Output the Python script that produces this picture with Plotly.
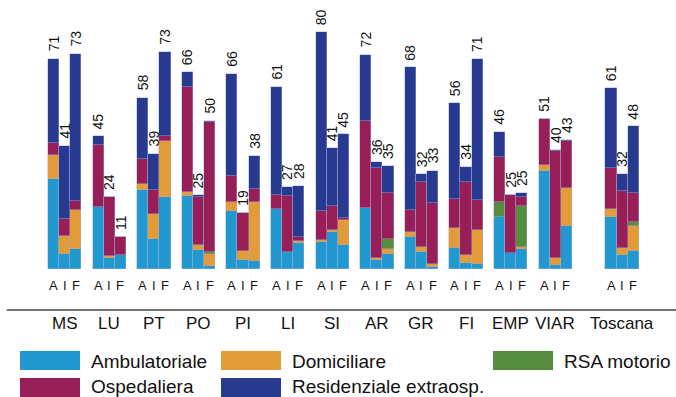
import plotly.graph_objects as go
import numpy as np

groups = ["MS", "LU", "PT", "PO", "PI", "LI", "SI", "AR", "GR", "FI", "EMP", "VIAR", "Toscana"]
sub = ["A", "I", "F"]

ambulatoriale = [30.3, 5.1, 6.6, 20.9, 3.8, 4.7, 26.7, 10.0, 24.2, 24.8, 6.4, 1.1,
                 19.6, 3.0, 2.7, 20.2, 5.6, 8.7, 9.2, 12.4, 8.1, 20.5, 3.0, 5.1,
                 10.9, 5.7, 0.8, 7.2, 1.9, 1.6, 17.6, 5.3, 6.9, 33.2, 1.4, 14.6,
                 17.7, 4.7, 6.2]
domiciliare = [8.3, 6.0, 13.3, 0.0, 0.5, 0.0, 2.0, 8.7, 19.0, 1.2, 1.6, 4.0,
               3.0, 3.1, 20.0, 0.0, 0.0, 0.9, 0.7, 0.8, 8.5, 0.0, 0.6, 1.8,
               1.7, 1.7, 0.9, 6.8, 2.7, 11.5, 0.0, 0.0, 0.4, 1.9, 2.2, 12.9,
               2.7, 2.5, 8.4]
rsa_motorio = [0, 0, 0, 0, 0, 0, 0, 0, 0, 0, 0, 0.6,
               0, 0, 0, 0, 0, 0, 0, 0, 0, 0, 0, 3.4,
               0, 0, 0, 0, 0, 0, 5.0, 0, 14.0, 0, 0, 0,
               0, 0, 1.4]
ospedaliera = [4.1, 5.8, 3.0, 21.0, 20.1, 6.1, 8.6, 8.1, 1.7, 35.6, 16.3, 44.1,
               8.8, 12.7, 4.2, 4.8, 19.2, 1.1, 9.7, 8.1, 0.6, 29.6, 30.6, 15.5,
               7.4, 22.1, 20.6, 9.6, 24.7, 10.1, 15.2, 19.7, 3.1, 15.7, 36.4, 15.7,
               13.8, 19.3, 9.7]
residenziale = [28.3, 24.7, 49.8, 2.9, 0.0, 0.0, 20.6, 12.2, 28.5, 5.0, 0.7, 0.2,
                34.5, 0.2, 11.4, 36.5, 2.8, 17.3, 60.4, 19.6, 28.3, 22.3, 1.9, 9.0,
                48.1, 2.7, 10.9, 32.4, 5.3, 47.8, 8.4, 0.0, 1.2, 0.0, 0.3, 0.5,
                26.9, 5.7, 22.5]
totals = [71, 41, 73, 45, 24, 11, 58, 39, 73, 66, 25, 50,
          66, 19, 38, 61, 27, 28, 80, 41, 45, 72, 36, 35,
          68, 32, 33, 56, 34, 71, 46, 25, 25, 51, 40, 43,
          61, 32, 48]

series = [
    ("Ambulatoriale", ambulatoriale, "#2198CF"),
    ("Domiciliare", domiciliare, "#E39B37"),
    ("RSA motorio", rsa_motorio, "#558C3E"),
    ("Ospedaliera", ospedaliera, "#971E57"),
    ("Residenziale extraosp.", residenziale, "#283A8F"),
]

# slot positions: 4 slots per group, Toscana separated by extra gap
xpos = []
for g in range(len(groups)):
    base = g * 4 + (2 if groups[g] == "Toscana" else 0)
    for j in range(3):
        xpos.append(base + j)
ticktext = sub * len(groups)

FONT = "Liberation Sans, Arial, sans-serif"
fig = go.Figure()
for name, vals, col in series:
    fig.add_trace(go.Bar(
        x=xpos, y=vals, name=name, width=1.0,
        marker=dict(color=col, line=dict(color="rgba(160,170,215,0.75)", width=0.6)),
        showlegend=False,
    ))

tops = np.sum([np.array(s[1]) for s in series], axis=0)

H_PLOT = 269.0
W = 676
def py(p):
    return (H_PLOT - p) / H_PLOT

annotations = []
for x, t, lab in zip(xpos, tops, totals):
    annotations.append(dict(x=x, y=t, xref="x", yref="y", text=str(lab), showarrow=False,
                            textangle=-90, yanchor="bottom", xanchor="center", yshift=5,
                            font=dict(family=FONT, size=14, color="#111")))
for x, s in zip(xpos, ticktext):
    annotations.append(dict(x=x, y=py(285), xref="x", yref="paper", text=s, showarrow=False,
                            xanchor="center", yanchor="middle",
                            font=dict(family=FONT, size=13, color="#111")))
for g, name in enumerate(groups):
    annotations.append(dict(x=xpos[g * 3 + 1], y=py(324), xref="x", yref="paper", text=name,
                            showarrow=False, xanchor="center", yanchor="middle",
                            font=dict(family=FONT, size=17, color="#111")))

shapes = [dict(type="line", xref="paper", yref="paper", x0=6.7 / W, x1=1.0,
               y0=py(310), y1=py(310), line=dict(color="#444", width=1.3))]

legend_items = [
    ("Ambulatoriale", "#2198CF", 20, 351, 370, 361),
    ("Domiciliare", "#E39B37", 221, 351, 370, 361),
    ("RSA motorio", "#558C3E", 493, 351, 370, 361),
    ("Ospedaliera", "#971E57", 20, 378, 398, 386),
    ("Residenziale extraosp.", "#283A8F", 221, 378, 398, 386),
]
for name, col, x0, y0, y1, yt in legend_items:
    shapes.append(dict(type="rect", xref="paper", yref="paper",
                       x0=x0 / W, x1=(x0 + 60) / W, y0=py(y1), y1=py(y0),
                       fillcolor=col, line=dict(width=0)))
    annotations.append(dict(x=(x0 + 69) / W, y=py(yt),
                            xref="paper", yref="paper", text=name, showarrow=False,
                            xanchor="left", yanchor="middle",
                            font=dict(family=FONT, size=19, color="#111")))

fig.update_layout(
    width=676, height=397,
    margin=dict(l=0, r=0, t=0, b=397 - 269, pad=0),
    paper_bgcolor="white", plot_bgcolor="white",
    barmode="stack", bargap=0,
    xaxis=dict(range=[-53.5 / 11.15, (676 - 53.5) / 11.15], showgrid=False, zeroline=False,
               showticklabels=False, showline=False, ticks=""),
    yaxis=dict(range=[0, 269 / 2.96], showgrid=False, zeroline=False,
               showticklabels=False, showline=False, ticks=""),
    annotations=annotations, shapes=shapes,
    showlegend=False,
)

fig.write_html("out.html", config={"displayModeBar": False},
               post_script="document.body.style.margin='0px';document.body.style.overflow='hidden';")
